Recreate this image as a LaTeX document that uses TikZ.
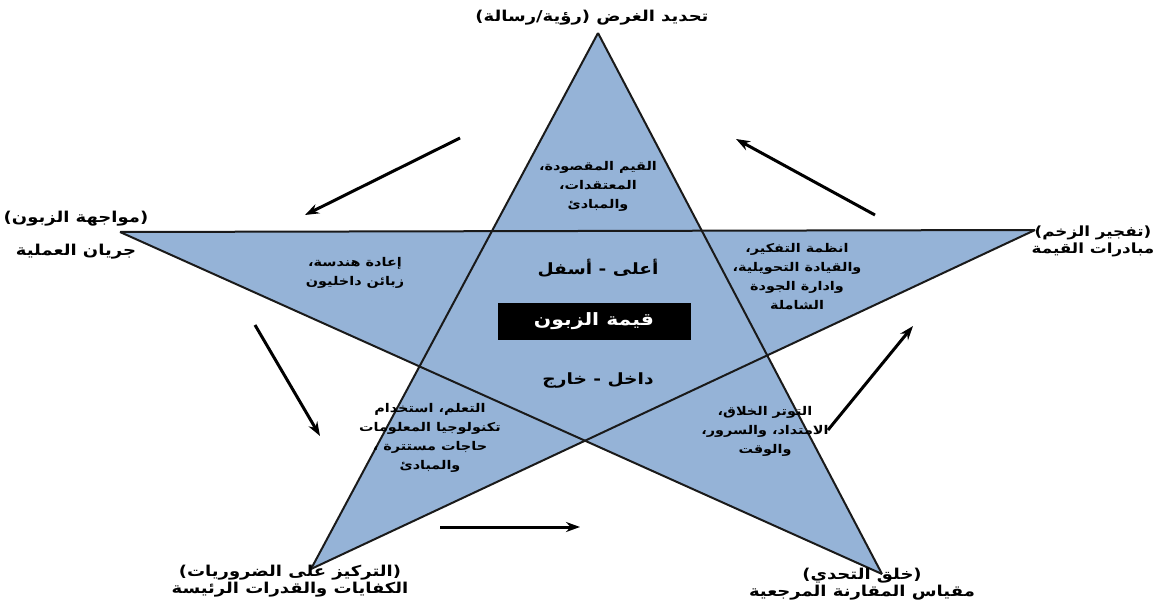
\documentclass[tikz,border=0pt]{standalone}
\usepackage{fontspec}
\usetikzlibrary{arrows.meta}
\TeXXeTstate=1
\newfontfamily\arabicfont[Script=Arabic, FakeStretch=1.2]{DejaVu Sans}
\newcommand\rtl[1]{\beginR #1\endR}
\definecolor{starblue}{HTML}{95B3D7}
\definecolor{edgegray}{HTML}{1A1A1A}
\tikzset{
  outer/.style={font=\arabicfont\bfseries\fontsize{15}{17}\selectfont, align=center, inner sep=1pt},
  inner/.style={font=\arabicfont\bfseries\fontsize{12}{19}\selectfont, align=center, inner sep=1pt},
  axis/.style={font=\arabicfont\bfseries\fontsize{15.5}{18}\selectfont, inner sep=1pt},
  flow/.style={-{Stealth[length=14pt,width=10pt]}, line width=3pt, black},
  edge/.style={line width=2pt, edgegray}
}
\begin{document}
\begin{tikzpicture}[x=1pt,y=-1pt]
\useasboundingbox (0,0) rectangle (1159,607);
% star points
\coordinate (T) at (598,33);
\coordinate (L) at (120,232);
\coordinate (R) at (1035,230);
\coordinate (BL) at (311,569);
\coordinate (BR) at (882,574);
% filled pentagram and its five strokes
\fill[starblue] (T) -- (BL) -- (R) -- (L) -- (BR) -- cycle;
\draw[edge] (T) -- (BL);
\draw[edge] (T) -- (BR);
\draw[edge] (L) -- (R);
\draw[edge] (L) -- (BR);
\draw[edge] (R) -- (BL);
% circulating arrows
\coordinate (a1s) at (460,138); \coordinate (a1e) at (305,215);
\coordinate (a2s) at (255,325); \coordinate (a2e) at (320,436);
\coordinate (a3s) at (440,527); \coordinate (a3e) at (580,527);
\coordinate (a4s) at (828,430); \coordinate (a4e) at (913,326);
\coordinate (a5s) at (875,215); \coordinate (a5e) at (736,139);
\draw[flow] (a1s) -- (a1e);
\draw[flow] (a2s) -- (a2e);
\draw[flow] (a3s) -- (a3e);
\draw[flow] (a4s) -- (a4e);
\draw[flow] (a5s) -- (a5e);
% labels at the points
\node[outer] (top) at (592,18) {\rtl{تحديد الغرض (رؤية/رسالة)}};
\node[outer] (left) at (76,235) {\rtl{(مواجهة الزبون)}\\[16pt]\rtl{جريان العملية}};
\node[outer, font=\arabicfont\bfseries\fontsize{14}{17}\selectfont] (right) at (1093,241) {\rtl{(تفجير الزخم)}\\\rtl{مبادرات القيمة}};
\node[outer] (botl) at (290,581) {\rtl{(التركيز على الضروريات)}\\\rtl{الكفايات والقدرات الرئيسة}};
\node[outer] (botr) at (862,584) {\rtl{(خلق التحدي)}\\\rtl{مقياس المقارنة المرجعية}};
% texts inside the arms
\node[inner] (armt) at (598,186) {\rtl{القيم المقصودة،}\\\rtl{المعتقدات،}\\\rtl{والمبادئ}};
\node[inner] (arml) at (355,273) {\rtl{إعادة هندسة،}\\\rtl{زبائن داخليون}};
\node[inner] (armr) at (797,277) {\rtl{انظمة التفكير،}\\\rtl{والقيادة التحويلية،}\\\rtl{وادارة الجودة}\\\rtl{الشاملة}};
\node[inner] (armbl) at (430,438) {\rtl{التعلم، استخدام}\\\rtl{تكنولوجيا المعلومات}\\\rtl{حاجات مستترة ،}\\\rtl{والمبادئ}};
\node[inner] (armbr) at (765,431) {\rtl{التوتر الخلاق،}\\\rtl{الامتداد، والسرور،}\\\rtl{والوقت}};
% centre
\node[axis] (up) at (598,268) {\rtl{أعلى - أسفل}};
\node[fill=black, text=white, minimum width=193pt, minimum height=37pt, font=\arabicfont\bfseries\fontsize{17}{20}\selectfont] (core) at (594,321) {\rtl{قيمة الزبون}};
\node[axis] (io) at (598,381) {\rtl{داخل - خارج}};
\end{tikzpicture}
\end{document}
